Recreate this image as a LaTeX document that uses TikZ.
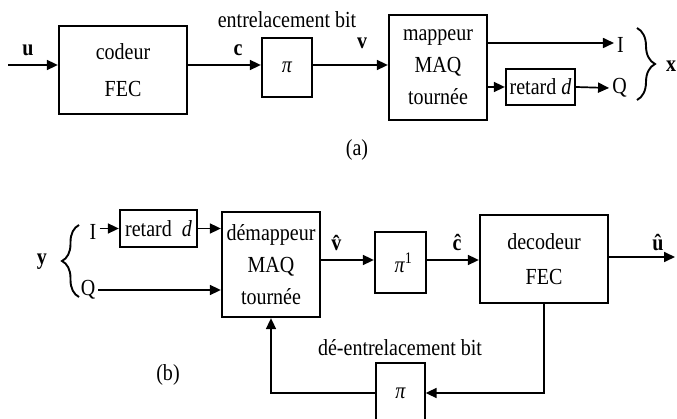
\documentclass[tikz,border=0pt]{standalone}
\usepackage{fontspec}
\setmainfont{Liberation Serif}[FakeStretch=0.87]
\usetikzlibrary{arrows.meta,decorations.pathreplacing}
\begin{document}
\begin{tikzpicture}[x=1pt,y=-1pt,
  every node/.style={font=\fontsize{23}{27}\selectfont, inner sep=0pt},
  blk/.style={draw, line width=2.3pt, align=center},
  lbl/.style={inner sep=3pt},
  arr/.style={line width=1.7pt, -{Triangle[length=11pt,width=10pt]}},
  brc/.style={line width=1.9pt, decorate, decoration={brace, amplitude=#1}}]
\useasboundingbox (0,0) rectangle (677,419);
\begin{scope}
\clip (0,0) rectangle (677,419);
% ---------- (a) ----------
\node[blk, minimum width=128pt, minimum height=88pt, font=\fontsize{23}{37}\selectfont] (cod) at (123,70) {codeur\\FEC};
\node[blk, minimum width=50pt, minimum height=59pt] (p1) at (287,67.5) {\textit{π}};
\node (entr) at (287,20) {entrelacement bit};
\node[blk, minimum width=98pt, minimum height=105pt, font=\fontsize{23}{32}\selectfont] (map) at (438,67.5) {mappeur\\MAQ\\tournée};
\node[blk, minimum width=69pt, minimum height=36pt] (r1) at (540.5,87) {retard~\textit{d}};
\node[lbl] (I1) at (620.5,45) {I};
\node[lbl] (Q1) at (619.5,88) {Q};
\node (xl) at (671,66) {\textbf{x}};
\node (ul) at (28,50) {\textbf{u}};
\node (cl) at (238,50) {\textbf{c}};
\node (vl) at (362,43) {\textbf{v}};
\node (al) at (357,150) {(a)};
\coordinate (uin) at (8,65);
\coordinate (yI1) at (0,43);
\draw[arr] (uin) -- (cod.west |- uin);
\draw[arr] (cod.east |- uin) -- (p1.west |- uin);
\draw[arr] (p1.east |- uin) -- (map.west |- uin);
\draw[arr] (map.east |- yI1) -- (I1.west |- yI1);
\draw[arr] (map.east |- r1) -- (r1.west);
\draw[arr] (r1.east) -- (Q1.west);
\draw[brc=18pt] (637,28) -- (637,100);
% ---------- (b) ----------
\node (yl) at (42,262) {\textbf{y}};
\draw[brc=17pt] (79,297) -- (79,225);
\node[lbl] (I2) at (93,232) {I};
\node[lbl] (Q2) at (88,290) {Q};
\node[blk, minimum width=77pt, minimum height=37pt] (r2) at (158.5,228.5) {retard~~\textit{d}};
\node[blk, minimum width=98pt, minimum height=105pt, font=\fontsize{23}{32}\selectfont] (dem) at (271,264.5) {démappeur\\MAQ\\tournée};
\node[blk, minimum width=51pt, minimum height=61pt] (pinv) at (400.5,262.5) {\hspace{6pt}\textit{π}\textsuperscript{1}};
\node[blk, minimum width=128pt, minimum height=88pt, font=\fontsize{23}{35}\selectfont] (dec) at (544,259) {decodeur\\FEC};
\node[draw, line width=1.3pt, minimum width=49pt, minimum height=60pt] (p2) at (400.5,393) {\textit{π}};
\node (dent) at (400,348) {dé-entrelacement bit};
\node (vh) at (338,243) {\textbf{\^{v}}};
\node (ch) at (457,242) {\textbf{\^{c}}};
\node (uh) at (658,243) {\textbf{\^{u}}};
\node (bl) at (168,375) {(b)};
\coordinate (yb) at (0,260);
\coordinate (uout) at (675,257);
\draw[arr] (I2.east |- r2) -- (r2.west);
\draw[arr] (r2.east) -- (dem.west |- r2);
\draw[arr] (Q2.east) -- (dem.west |- Q2);
\draw[arr] (dem.east |- yb) -- (pinv.west |- yb);
\draw[arr] (pinv.east |- yb) -- (dec.west |- yb);
\draw[arr] (dec.east |- uout) -- (uout);
\draw[arr] (dec.south) |- (p2.east);
\draw[arr] (p2.west) -| (dem.south);
\end{scope}
\end{tikzpicture}
\end{document}
